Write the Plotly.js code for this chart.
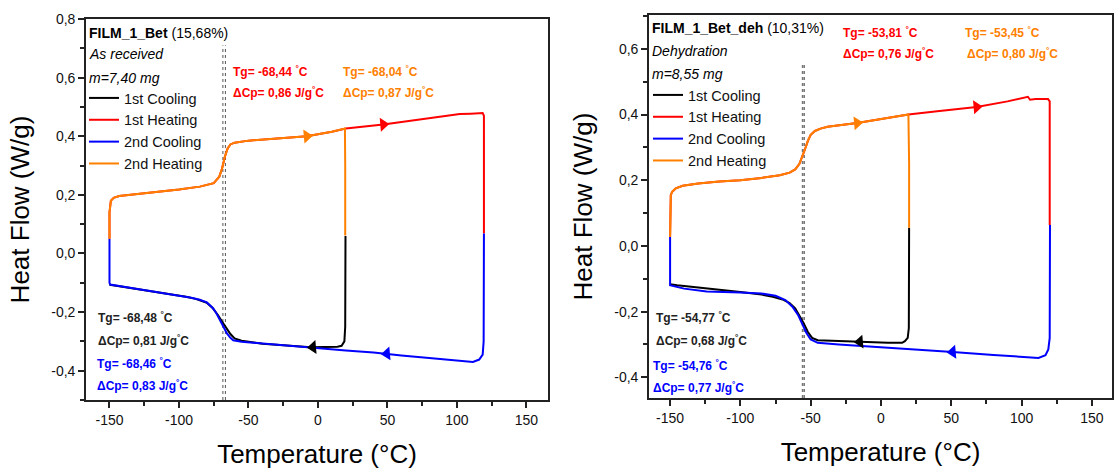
<!DOCTYPE html>
<html>
<head>
<meta charset="utf-8">
<script src="https://cdn.plot.ly/plotly-3.0.1.min.js"></script>
<style>html,body{margin:0;padding:0;background:#fff}#chart{width:1115px;height:470px}</style>
</head>
<body>
<div id="chart"></div>
<script>
// ---------- Left panel: FILM_1_Bet (as received) ----------
const L_cool1_T = [19.8, 19.8, 19.6, 19.0, 17, 14, 5, -5, -20, -40, -55, -60, -63, -66, -69, -72, -76, -80, -88, -95, -105, -115, -125, -135, -143, -150];
const L_cool1_HF = [0.06, -0.10, -0.25, -0.30, -0.315, -0.318, -0.318, -0.32, -0.315, -0.308, -0.298, -0.29, -0.275, -0.255, -0.232, -0.21, -0.185, -0.168, -0.155, -0.148, -0.14, -0.132, -0.124, -0.117, -0.112, -0.107];
const L_heat1_T = [-150, -150, -149, -147, -143, -135, -120, -100, -85, -75, -71, -69, -67, -65, -63, -60, -50, -30, -8, 10, 20, 47, 70, 90, 102, 110, 116, 118.5, 119.4, 119.4];
const L_heat1_HF = [0.05, 0.14, 0.18, 0.19, 0.196, 0.2, 0.208, 0.218, 0.228, 0.24, 0.262, 0.29, 0.33, 0.358, 0.372, 0.378, 0.385, 0.393, 0.40, 0.415, 0.426, 0.44, 0.455, 0.468, 0.476, 0.477, 0.478, 0.479, 0.47, 0.068];
const L_cool2_T = [119.4, 119.4, 119.2, 118.5, 116, 111.5, 100, 80, 60, 49.6, 40, 20, 0, -20, -40, -55, -61, -63, -65.5, -68, -70.5, -73, -75.5, -78, -80, -85, -92, -100, -110, -120, -130, -140, -146, -149.5, -150, -150];
const L_cool2_HF = [0.068, -0.10, -0.30, -0.345, -0.362, -0.37, -0.366, -0.357, -0.348, -0.342, -0.338, -0.331, -0.323, -0.316, -0.308, -0.301, -0.296, -0.288, -0.273, -0.25, -0.228, -0.205, -0.187, -0.175, -0.167, -0.158, -0.15, -0.144, -0.136, -0.128, -0.121, -0.114, -0.109, -0.106, -0.10, 0.05];
const L_heat2_T = [-150, -150, -149, -147, -143, -135, -120, -100, -85, -75, -71, -69, -67, -65, -63, -60, -50, -30, -8, 10, 19.4, 19.6, 19.6];
const L_heat2_HF = [0.05, 0.14, 0.18, 0.19, 0.196, 0.2, 0.208, 0.218, 0.228, 0.24, 0.262, 0.29, 0.33, 0.358, 0.372, 0.378, 0.385, 0.393, 0.40, 0.415, 0.426, 0.30, 0.061];
const L_arrow_T = [-8, 47, -3.6, 49.6];
const L_arrow_HF = [0.40, 0.44, -0.32, -0.342];
const L_tgLines = [-68.4, -66.6];

// ---------- Right panel: FILM_1_Bet_deh (dehydration) ----------
const R_cool1_T = [20, 20, 19.8, 19, 17, 15, 5, -15, -35, -45, -49, -52, -55, -58, -61, -65, -70, -77, -85, -100, -115, -130, -145, -150];
const R_cool1_HF = [0.055, -0.10, -0.25, -0.28, -0.29, -0.295, -0.295, -0.292, -0.29, -0.287, -0.28, -0.262, -0.235, -0.21, -0.19, -0.174, -0.163, -0.155, -0.148, -0.14, -0.134, -0.127, -0.12, -0.117];
const R_heat1_T = [-150, -150, -149.5, -148.5, -146, -141, -130, -115, -100, -85, -72, -65, -61, -58, -56, -54, -52, -50, -47, -43, -38, -30, -17, -3, 10, 19.5, 40, 68, 90, 104.5, 106, 110, 118.8, 120, 120];
const R_heat1_HF = [0.027, 0.12, 0.155, 0.165, 0.175, 0.183, 0.19, 0.196, 0.20, 0.207, 0.215, 0.223, 0.233, 0.25, 0.27, 0.295, 0.32, 0.338, 0.35, 0.357, 0.363, 0.367, 0.374, 0.384, 0.392, 0.40, 0.41, 0.423, 0.44, 0.454, 0.445, 0.447, 0.447, 0.44, 0.064];
const R_cool2_T = [120.2, 120.2, 120, 119, 117, 112, 100, 80, 51, 20, -5.7, -30, -45, -50, -53, -56, -59, -63, -68, -75, -85, -100, -124, -140, -148, -150, -150];
const R_cool2_HF = [0.064, -0.10, -0.28, -0.315, -0.333, -0.341, -0.338, -0.332, -0.323, -0.315, -0.307, -0.30, -0.295, -0.285, -0.265, -0.24, -0.21, -0.185, -0.165, -0.152, -0.145, -0.142, -0.139, -0.13, -0.122, -0.12, 0.027];
const R_heat2_T = [-150, -150, -149.5, -148.5, -146, -141, -130, -115, -100, -85, -72, -65, -61, -58, -56, -54, -52, -50, -47, -43, -38, -30, -17, -3, 10, 19.5, 20, 20];
const R_heat2_HF = [0.027, 0.12, 0.155, 0.165, 0.175, 0.183, 0.19, 0.196, 0.20, 0.207, 0.215, 0.223, 0.233, 0.25, 0.27, 0.295, 0.32, 0.338, 0.35, 0.357, 0.363, 0.367, 0.374, 0.384, 0.392, 0.40, 0.25, 0.055];
const R_arrow_T = [-17, 68, -15, 51];
const R_arrow_HF = [0.374, 0.423, -0.292, -0.323];
const R_tgLines = [-55.8, -54.6];

// ---------- labels ----------
const seriesNames = ['1st Cooling', '1st Heating', '2nd Cooling', '2nd Heating'];
const seriesColors = ['#000000', '#ff0000', '#0000ff', '#ff8000'];
const arrowSymbols = ['triangle-right', 'triangle-right', 'triangle-left', 'triangle-left'];
const arrowColors = ['#ff8000', '#ff0000', '#000000', '#0000ff'];
const xTickVals = [-150, -100, -50, 0, 50, 100, 150];
const xTickText = ['-150', '-100', '-50', '0', '50', '100', '150'];
const yTickValsL = [-0.4, -0.2, 0, 0.2, 0.4, 0.6, 0.8];
const yTickTextL = ['-0,4', '-0,2', '0,0', '0,2', '0,4', '0,6', '0,8'];
const yTickValsR = [-0.4, -0.2, 0, 0.2, 0.4, 0.6];
const yTickTextR = ['-0,4', '-0,2', '0,0', '0,2', '0,4', '0,6'];
const L_info = ['<b>FILM_1_Bet</b> (15,68%)', '<i>As received</i>', '<i>m=7,40 mg</i>'];
const R_info = ['<b>FILM_1_Bet_deh</b> (10,31%)', '<i>Dehydration</i>', '<i>m=8,55 mg</i>'];
const L_tg = ['-68,48', '-68,44', '-68,46', '-68,04'];
const L_dcp = ['0,81', '0,86', '0,83', '0,87'];
const R_tg = ['-54,77', '-53,81', '-54,76', '-53,45'];
const R_dcp = ['0,68', '0,76', '0,77', '0,80'];

const FONT = 'Liberation Sans, Arial, sans-serif';
const W = 1115, H = 470;
const px = v => v / W, py = v => 1 - v / H;

const L_series = [[L_cool1_T, L_cool1_HF], [L_heat1_T, L_heat1_HF], [L_cool2_T, L_cool2_HF], [L_heat2_T, L_heat2_HF]];
const R_series = [[R_cool1_T, R_cool1_HF], [R_heat1_T, R_heat1_HF], [R_cool2_T, R_cool2_HF], [R_heat2_T, R_heat2_HF]];

const traces = [];
L_series.forEach((s, i) => traces.push({
  x: s[0], y: s[1], type: 'scatter', mode: 'lines', name: seriesNames[i],
  line: {color: seriesColors[i], width: 2}, xaxis: 'x', yaxis: 'y', legend: 'legend'
}));
R_series.forEach((s, i) => traces.push({
  x: s[0], y: s[1], type: 'scatter', mode: 'lines', name: seriesNames[i],
  line: {color: seriesColors[i], width: 2}, xaxis: 'x2', yaxis: 'y2', legend: 'legend2'
}));
traces.push({x: L_arrow_T, y: L_arrow_HF, type: 'scatter', mode: 'markers', showlegend: false, hoverinfo: 'skip',
  marker: {symbol: arrowSymbols, color: arrowColors, size: 12, angle: -5}, xaxis: 'x', yaxis: 'y'});
traces.push({x: R_arrow_T, y: R_arrow_HF, type: 'scatter', mode: 'markers', showlegend: false, hoverinfo: 'skip',
  marker: {symbol: arrowSymbols, color: arrowColors, size: 12, angle: -5}, xaxis: 'x2', yaxis: 'y2'});

function xAxis(domain, range, anchor) {
  return {
    domain: domain, range: range, anchor: anchor,
    tickvals: xTickVals, ticktext: xTickText, ticks: 'outside', ticklen: 6, tickwidth: 1.5, tickcolor: '#222',
    minor: {dtick: 25, tick0: 0, ticks: 'outside', ticklen: 4, tickwidth: 1.5, tickcolor: '#222'},
    showline: true, mirror: true, linecolor: '#222', linewidth: 1.6,
    showgrid: false, zeroline: false,
    tickfont: {family: FONT, size: 14, color: '#111'},
    title: {text: 'Temperature (°C)', font: {family: FONT, size: 26, color: '#000'}, standoff: 18}
  };
}
function yAxis(domain, range, anchor, tv, tt) {
  return {
    domain: domain, range: range, anchor: anchor,
    tickvals: tv, ticktext: tt, ticks: 'outside', ticklen: 6, tickwidth: 1.5, tickcolor: '#222',
    minor: {dtick: 0.1, tick0: 0, ticks: 'outside', ticklen: 4, tickwidth: 1.5, tickcolor: '#222'},
    showline: true, mirror: true, linecolor: '#222', linewidth: 1.6,
    showgrid: false, zeroline: false,
    tickfont: {family: FONT, size: 14, color: '#111'},
    title: {text: 'Heat Flow (W/g)', font: {family: FONT, size: 26, color: '#000'}, standoff: 14}
  };
}

const annotations = [];
function txt(x, y, text, color, size) {
  annotations.push({xref: 'paper', yref: 'paper', x: px(x), y: py(y), text: text, showarrow: false,
    xanchor: 'left', yanchor: 'middle', font: {family: FONT, size: size, color: color}});
}
// left panel info
txt(87, 33, L_info[0], '#000', 14);
txt(87, 54, L_info[1], '#000', 14);
txt(87, 78, L_info[2], '#000', 14);
txt(231, 71, '<b>Tg= ' + L_tg[1] + ' <sup>°</sup>C</b>', seriesColors[1], 12);
txt(231, 92, '<b>ΔCp= ' + L_dcp[1] + ' J/g<sup>°</sup>C</b>', seriesColors[1], 12);
txt(341, 71, '<b>Tg= ' + L_tg[3] + ' <sup>°</sup>C</b>', seriesColors[3], 12);
txt(341, 92, '<b>ΔCp= ' + L_dcp[3] + ' J/g<sup>°</sup>C</b>', seriesColors[3], 12);
txt(96, 317, '<b>Tg= ' + L_tg[0] + ' <sup>°</sup>C</b>', '#222', 12);
txt(96, 340, '<b>ΔCp= ' + L_dcp[0] + ' J/g<sup>°</sup>C</b>', '#222', 12);
txt(95, 363, '<b>Tg= ' + L_tg[2] + ' <sup>°</sup>C</b>', seriesColors[2], 12);
txt(95, 385, '<b>ΔCp= ' + L_dcp[2] + ' J/g<sup>°</sup>C</b>', seriesColors[2], 12);
// right panel info
txt(650, 28, R_info[0], '#000', 14);
txt(650, 51, R_info[1], '#000', 14);
txt(650, 74, R_info[2], '#000', 14);
txt(841, 32, '<b>Tg= ' + R_tg[1] + ' <sup>°</sup>C</b>', seriesColors[1], 12);
txt(841, 53, '<b>ΔCp= ' + R_dcp[1] + ' J/g<sup>°</sup>C</b>', seriesColors[1], 12);
txt(963, 32, '<b>Tg= ' + R_tg[3] + ' <sup>°</sup>C</b>', seriesColors[3], 12);
txt(965, 53, '<b>ΔCp= ' + R_dcp[3] + ' J/g<sup>°</sup>C</b>', seriesColors[3], 12);
txt(654, 317, '<b>Tg= ' + R_tg[0] + ' <sup>°</sup>C</b>', '#222', 12);
txt(654, 340, '<b>ΔCp= ' + R_dcp[0] + ' J/g<sup>°</sup>C</b>', '#222', 12);
txt(651, 365, '<b>Tg= ' + R_tg[2] + ' <sup>°</sup>C</b>', seriesColors[2], 12);
txt(651, 387, '<b>ΔCp= ' + R_dcp[2] + ' J/g<sup>°</sup>C</b>', seriesColors[2], 12);

const shapes = [];
L_tgLines.forEach(t => shapes.push({type: 'line', xref: 'x', yref: 'y', x0: t, x1: t, y0: -0.5, y1: 0.71,
  line: {color: '#555', width: 1, dash: 'dot'}, layer: 'below'}));
R_tgLines.forEach(t => shapes.push({type: 'line', xref: 'x2', yref: 'y2', x0: t, x1: t, y0: -0.463, y1: 0.56,
  line: {color: '#777', width: 1.5, dash: 'dot'}, layer: 'below'}));

const legendBase = {bgcolor: 'rgba(0,0,0,0)', borderwidth: 0, font: {family: FONT, size: 14.5, color: '#111'},
  xanchor: 'left', yanchor: 'top', tracegroupgap: 0, itemwidth: 30, traceorder: 'normal'};

const layout = {
  width: W, height: H, margin: {l: 0, r: 0, t: 0, b: 0},
  paper_bgcolor: '#fff', plot_bgcolor: '#fff',
  showlegend: true,
  xaxis: xAxis([px(86), px(548)], [-166.9, 165.5], 'y'),
  yaxis: yAxis([1 - 400 / H, 1 - 19 / H], [-0.5, 0.8], 'x', yTickValsL, yTickTextL),
  xaxis2: xAxis([px(649), px(1112)], [-165.0, 164.3], 'y2'),
  yaxis2: yAxis([1 - 398 / H, 1 - 15 / H], [-0.463, 0.703], 'x2', yTickValsR, yTickTextR),
  legend: Object.assign({x: px(84), y: py(82)}, legendBase),
  legend2: Object.assign({x: px(648), y: py(79)}, legendBase),
  annotations: annotations, shapes: shapes
};

Plotly.newPlot('chart', traces, layout, {displayModeBar: false});
</script>
</body>
</html>
